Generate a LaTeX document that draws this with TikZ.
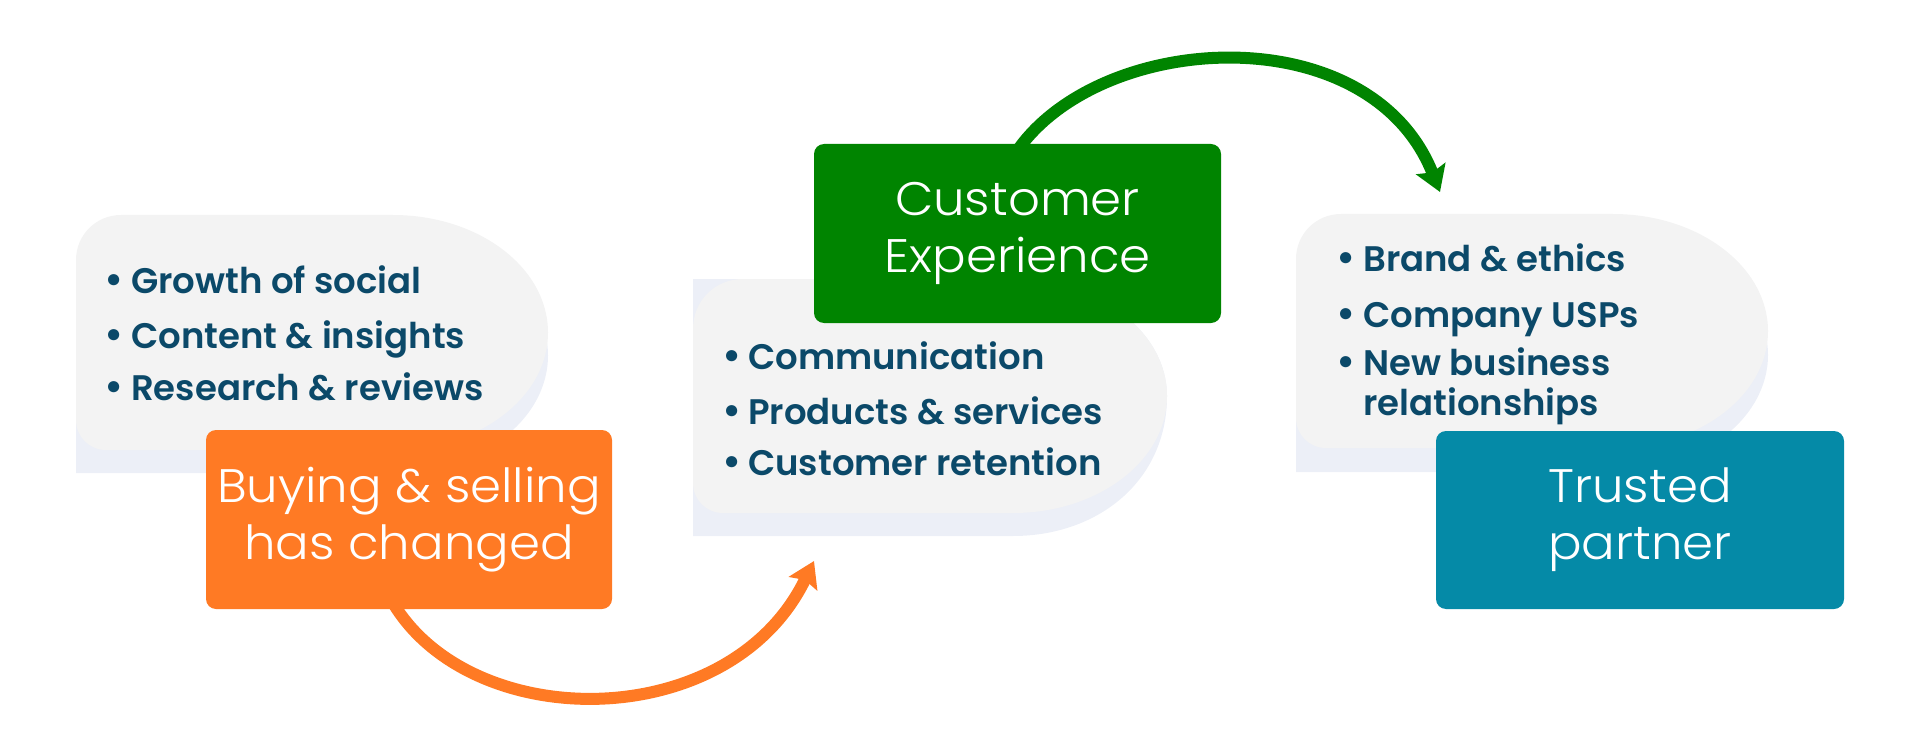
\documentclass[tikz,border=0pt]{standalone}
\usepackage{fontspec}
\setmainfont{Poppins}
\newfontfamily\semifont{Poppins SemiBold}
\newfontfamily\lightfont[FakeStretch=1.06]{Poppins Light}
\usetikzlibrary{arrows.meta}
\definecolor{bubble}{HTML}{F3F3F3}
\definecolor{bshadow}{HTML}{ECEFF7}
\definecolor{navy}{HTML}{0B4969}
\definecolor{orangec}{HTML}{FF7A24}
\definecolor{greenc}{HTML}{008400}
\definecolor{tealc}{HTML}{058AA7}
\pgfdeclarelayer{bg}
\pgfsetlayers{bg,main}
\newcommand\bitem[5]{%
  \node[dot] (#1d) at (#2,#4) {\textbullet};
  \node[item] (#1) at (#3,#4) {#5};}
\begin{document}
\begin{tikzpicture}[x=1pt,y=-1pt,
  item/.style={anchor=base west, inner sep=0pt, text=navy, font=\semifont\fontsize{35.5}{40}\selectfont},
  dot/.style={anchor=base, inner sep=0pt, text=navy, font=\semifont\fontsize{40}{40}\selectfont},
  box/.style={rounded corners=10pt, inner sep=0pt, text=white, align=center, font=\lightfont\fontsize{47}{57}\selectfont},
  flow/.style={line width=12pt, -{Stealth[length=25pt,width=31pt,inset=4pt]}}]
\useasboundingbox (0,0) rectangle (1920,754);

% coloured boxes
\node[box, fill=orangec, minimum width=406pt, minimum height=179pt] (obox) at (409,519.5) {Buying \& selling\\has changed};
\node[box, fill=greenc, minimum width=407pt, minimum height=179pt] (gbox) at (1017.5,233.5) {Customer\\Experience};
\node[box, fill=tealc, minimum width=408pt, minimum height=178pt] (tbox) at (1640,520) {Trusted\\partner};

\coordinate (oend) at (814,561);
\coordinate (gend) at (1440,192);

\begin{pgfonlayer}{bg}
% left bubble
\fill[bshadow] (76,283) .. controls (76,258) and (96,238) .. (121,238) -- (393,238)
  .. controls (478.6,238) and (548,290.6) .. (548,355.5)
  .. controls (548,420.4) and (478.6,473) .. (393,473) -- (76,473) -- cycle;
\fill[bubble] (76,260) .. controls (76,235) and (96,215) .. (121,215) -- (393,215)
  .. controls (478.6,215) and (548,267.6) .. (548,332.5)
  .. controls (548,397.4) and (478.6,450) .. (393,450)
  -- (106,450) .. controls (89.4,450) and (76,436.6) .. (76,420) -- cycle;
% middle bubble
\fill[bshadow] (693,279) -- (1013,279)
  .. controls (1098,279) and (1167,331.4) .. (1167,396)
  .. controls (1167,481) and (1098,536) .. (1013,536) -- (693,536) -- cycle;
\fill[bubble] (693,329) .. controls (693,301) and (715,279) .. (743,279) -- (1013,279)
  .. controls (1098,279) and (1167,331.4) .. (1167,396)
  .. controls (1167,460.6) and (1098,513) .. (1013,513)
  -- (723,513) .. controls (706.4,513) and (693,499.6) .. (693,483) -- cycle;
% right bubble
\fill[bshadow] (1296,283) .. controls (1296,258) and (1316,238) .. (1341,238) -- (1613,238)
  .. controls (1698.6,238) and (1768,290.6) .. (1768,355)
  .. controls (1768,419.4) and (1698.6,472) .. (1613,472) -- (1296,472) -- cycle;
\fill[bubble] (1296,259) .. controls (1296,234) and (1316,214) .. (1341,214) -- (1613,214)
  .. controls (1698.6,214) and (1768,266.6) .. (1768,331)
  .. controls (1768,395.4) and (1698.6,448) .. (1613,448)
  -- (1326,448) .. controls (1309.4,448) and (1296,434.6) .. (1296,418) -- cycle;
% arrows
\draw[flow, draw=orangec] ([xshift=-17pt,yshift=8pt]obox.south)
  .. controls (470,735) and (730,735) .. (oend);
\draw[flow, draw=greenc] ([xshift=-1pt,yshift=-8pt]gbox.north)
  .. controls (1100,30) and (1370,15) .. (gend);
\end{pgfonlayer}

% bullet lists
\bitem{l1}{114.5}{131}{294}{Growth of social}
\bitem{l2}{114.5}{131}{348}{Content \& insights}
\bitem{l3}{114.5}{131}{400}{Research \& reviews}
\bitem{m1}{732}{748}{369}{Communication}
\bitem{m2}{732}{748}{424}{Products \& services}
\bitem{m3}{732}{748}{475}{Customer retention}
\bitem{r1}{1346}{1363}{272}{Brand \& ethics}
\bitem{r2}{1346}{1363}{327}{Company USPs}
\bitem{r3}{1346}{1363}{375}{New business}
\node[item] (r4) at (1363,415) {relationships};
\end{tikzpicture}
\end{document}
